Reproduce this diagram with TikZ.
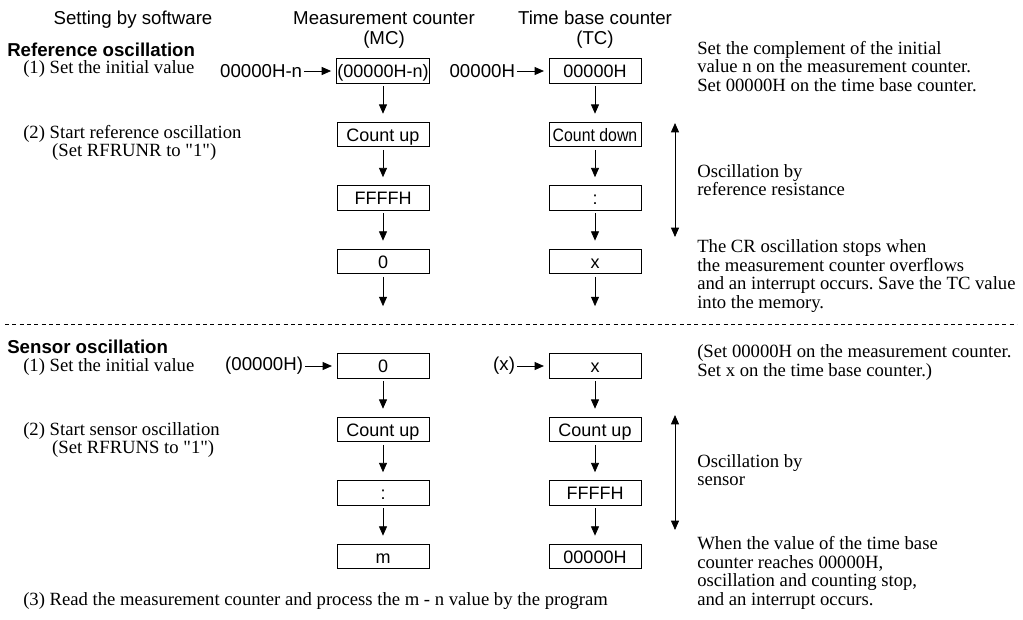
\documentclass[tikz,border=0pt]{standalone}
\usepackage{fontspec}
\setmainfont{Liberation Serif}
\setsansfont{Liberation Sans}
\usepackage{tikz}
\usetikzlibrary{arrows.meta,positioning}
\frenchspacing
\tikzset{
  counter/.style={
    draw, line width=0.6pt, minimum width=69pt, minimum height=18.5pt,
    inner sep=1pt, text height=10pt, text depth=0pt, align=center,
    font=\sffamily\fontsize{13.5}{14}\selectfont
  },
  head/.style={align=center, inner sep=0pt, font=\sffamily\fontsize{14}{15}\selectfont},
  title/.style={anchor=west, inner sep=0pt, font=\sffamily\bfseries\fontsize{14}{15}\selectfont},
  value/.style={inner sep=0pt, font=\sffamily\fontsize{14}{15}\selectfont},
  note/.style={anchor=west, align=left, inner sep=0pt, font=\rmfamily\fontsize{14}{14}\selectfont},
  arrow/.style={-{Triangle[length=7pt,width=6pt]}, line width=0.6pt},
  osc/.style={{Triangle[length=7pt,width=6pt]}-{Triangle[length=7pt,width=6pt]}, line width=0.6pt},
  sepline/.style={line width=0.6pt, dash pattern=on 3pt off 2.5pt},
}

\begin{document}
\begin{tikzpicture}[x=0.75pt, y=-0.75pt, node distance=28.5pt and 25pt]
  \useasboundingbox (0,0) rectangle (1023,619);
  \node[head] (hsw) at (133,20) {Setting by software};
  \node[head] (hmc) at (384,30) {Measurement counter\\(MC)};
  \node[head] (htc) at (595,30) {Time base counter\\(TC)};

  % reference oscillation
  \node[title] (reftitle) at (7,50) {Reference oscillation};
  \node[note] (refone) at (23,69) {(1) Set the initial value};
  \node[note] (reftwo) at (23,143) {(2) Start reference oscillation\\\hspace*{1.55em}(Set RFRUNR to \textquotedbl 1\textquotedbl)};
  \node[counter] (mcinit) at (383,71) {(00000H-n)};
  \node[counter, below=of mcinit] (mcup) {Count up};
  \node[counter, below=of mcup] (mcfull) {FFFFH};
  \node[counter, below=of mcfull] (mczero) {0};
  \node[counter] (tcinit) at (595,71) {00000H};
  \node[counter, below=of tcinit] (tcdown) {\scalebox{0.88}[1]{Count down}};
  \node[counter, below=of tcdown] (tcdots) {:};
  \node[counter, below=of tcdots] (tcx) {x};
  \coordinate[below=24pt of mczero] (mcend);
  \coordinate[below=24pt of tcx] (tcend);
  \node[value, left=25pt of mcinit] (mcset) {00000H-n};
  \node[value, left=25pt of tcinit] (tcset) {00000H};
  \draw[arrow, shorten <=1.5pt, shorten >=3.5pt] (mcset) -- (mcinit);
  \draw[arrow, shorten <=1.5pt, shorten >=3.5pt] (tcset) -- (tcinit);
  \foreach \a/\b in {mcinit/mcup, mcup/mcfull, mcfull/mczero,
                     tcinit/tcdown, tcdown/tcdots, tcdots/tcx}
    \draw[arrow, shorten <=2pt, shorten >=6pt] (\a) -- (\b);
  \draw[arrow, shorten <=2pt] (mczero) -- (mcend);
  \draw[arrow, shorten <=2pt] (tcx) -- (tcend);
  \coordinate (refoscA) at (675,123);
  \coordinate (refoscB) at (675,237);
  \draw[osc] (refoscA) -- (refoscB);
  \node[note] (refnote) at (697,66.5) {Set the complement of the initial\\value n on the measurement counter.\\Set 00000H on the time base counter.};
  \node[note] (refres) at (697,180) {Oscillation by\\reference resistance};
  \node[note] (refstop) at (697,276) {The CR oscillation stops when\\the measurement counter overflows\\and an interrupt occurs. Save the TC value\\into the memory.};

  \coordinate (sepL) at (5,324);
  \coordinate (sepR) at (1017,324);
  \draw[sepline] (sepL) -- (sepR);

  % sensor oscillation
  \node[title] (sentitle) at (7,347) {Sensor oscillation};
  \node[note] (senone) at (23,367) {(1) Set the initial value};
  \node[note] (sentwo) at (23,440) {(2) Start sensor oscillation\\\hspace*{1.55em}(Set RFRUNS to \textquotedbl 1\textquotedbl)};
  \node[note] (senthree) at (23,601) {(3) Read the measurement counter and process the m - n value by the program};
  \node[counter] (mcsinit) at (383,366) {0};
  \node[counter, below=of mcsinit] (mcsup) {Count up};
  \node[counter, below=of mcsup] (mcsdots) {:};
  \node[counter, below=of mcsdots] (mcsm) {m};
  \node[counter] (tcsinit) at (595,366) {x};
  \node[counter, below=of tcsinit] (tcsup) {Count up};
  \node[counter, below=of tcsup] (tcsfull) {FFFFH};
  \node[counter, below=of tcsfull] (tcszero) {00000H};
  \node[value, left=25pt of mcsinit] (mcsset) {(00000H)};
  \node[value, left=25pt of tcsinit] (tcsset) {(x)};
  \draw[arrow, shorten <=1.5pt, shorten >=3.5pt] (mcsset) -- (mcsinit);
  \draw[arrow, shorten <=1.5pt, shorten >=3.5pt] (tcsset) -- (tcsinit);
  \foreach \a/\b in {mcsinit/mcsup, mcsup/mcsdots, mcsdots/mcsm,
                     tcsinit/tcsup, tcsup/tcsfull, tcsfull/tcszero}
    \draw[arrow, shorten <=2pt, shorten >=6pt] (\a) -- (\b);
  \coordinate (senoscA) at (675,415);
  \coordinate (senoscB) at (675,530);
  \draw[osc] (senoscA) -- (senoscB);
  \node[note] (sennote) at (697,362.5) {(Set 00000H on the measurement counter.\\Set x on the time base counter.)};
  \node[note] (sensor) at (697,470) {Oscillation by\\sensor};
  \node[note] (senstop) at (697,573) {When the value of the time base\\counter reaches 00000H,\\oscillation and counting stop,\\and an interrupt occurs.};
\end{tikzpicture}
\end{document}
